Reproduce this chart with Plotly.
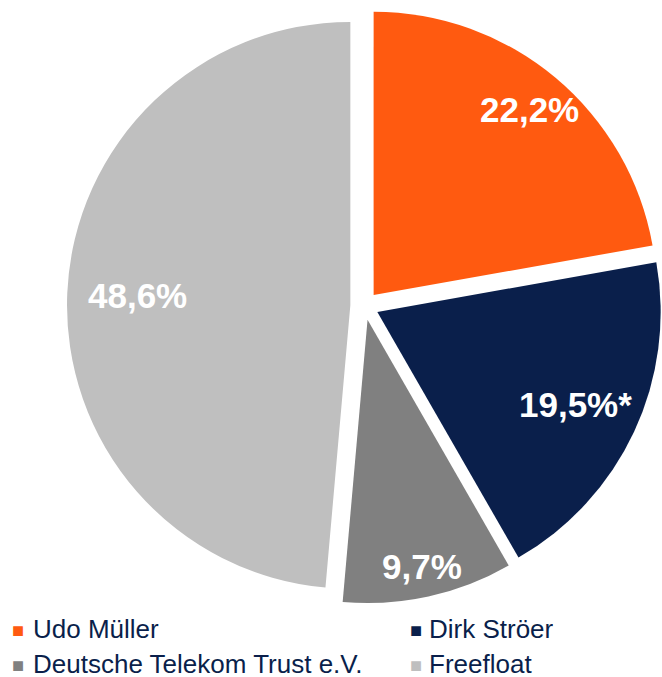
import math
import plotly.graph_objects as go

# Data
holders = ["Udo Müller", "Dirk Ströer", "Deutsche Telekom Trust e.V.", "Freefloat"]
shares = [22.2, 19.5, 9.7, 48.6]
label_suffix = ["", "*", "", ""]
colors = ["#FF5A10", "#0A1F4B", "#808080", "#BFBFBF"]

# style: radial position of each value label (fraction of pie radius, from slice apex)
label_radius = [0.854, 0.771, 0.893, 0.752]
# style: legend grid (column, row) of each entry
legend_column = [0, 1, 0, 1]
legend_row = [0, 0, 1, 1]

W, H = 662, 677
MB = 73                      # bottom margin reserved for the legend
GH = H - MB                  # plot-area height
PULL = 0.05
x0_px, x1_px = 67.0, 662.0
y_top_px = 7.8
dom_x = [x0_px / W, x1_px / W]
dom_y = [0, 1 - y_top_px / GH]

FONT = "Liberation Sans, Arial, sans-serif"
LEG_TEXT_X = [31.5, 427.5]     # px, left edge of legend text per column
LEG_SYM_X = [18.0, 415.5]      # px, centre of legend square per column
LEG_ROW_Y = [629.0, 664.0]     # px, centre of legend row

fig = go.Figure(
    go.Pie(
        labels=holders,
        values=shares,
        sort=False,
        direction="clockwise",
        rotation=0,
        pull=[PULL] * len(shares),
        marker=dict(colors=colors, line=dict(width=0)),
        textinfo="none",
        domain=dict(x=dom_x, y=dom_y),
        hoverinfo="label+percent",
        showlegend=False,
    )
)

# value labels placed along each slice's mid-angle (derived from the data)
aw = W * (dom_x[1] - dom_x[0])
ah = GH * (dom_y[1] - dom_y[0])
r = min(aw, ah) / (2 + 2 * PULL)
cx = W * (dom_x[0] + dom_x[1]) / 2
cy = GH * (1 - dom_y[0]) - ah / 2
total = sum(shares)
cum = 0.0
for v, suf, f in zip(shares, label_suffix, label_radius):
    mid = 2 * math.pi * (cum + v / 2) / total
    cum += v
    dx, dy = math.sin(mid), -math.cos(mid)
    px = cx + (PULL + f) * r * dx
    py = cy + (PULL + f) * r * dy
    txt = f"{v:.1f}".replace(".", ",") + "%" + suf
    fig.add_annotation(
        x=px / W, y=1 - py / GH, xref="paper", yref="paper",
        text=txt, showarrow=False, xanchor="center", yanchor="middle",
        font=dict(family=FONT, size=35, color="white", weight="bold"),
    )

# legend: coloured square + holder name, two columns
for name, col, row, c in zip(holders, legend_column, legend_row, colors):
    yc = LEG_ROW_Y[row]
    fig.add_annotation(
        x=LEG_SYM_X[col] / W, y=1 - (yc + 0.8) / GH, xref="paper", yref="paper",
        text="■", showarrow=False, xanchor="center", yanchor="middle",
        font=dict(family=FONT, size=20, color=c), borderpad=0,
    )
    fig.add_annotation(
        x=LEG_TEXT_X[col] / W, y=1 - yc / GH, xref="paper", yref="paper",
        text=name, showarrow=False, xanchor="left", yanchor="middle",
        height=26, valign="middle", borderpad=0,
        font=dict(family=FONT, size=26, color="#0A1F4B"),
    )

fig.update_layout(
    width=W,
    height=H,
    margin=dict(l=0, r=0, t=0, b=MB, autoexpand=False),
    paper_bgcolor="white",
    plot_bgcolor="white",
    font=dict(family=FONT),
    showlegend=False,
)

fig.write_html(
    "out.html",
    config={"displayModeBar": False},
    post_script="document.body.style.margin='0';document.body.style.overflow='hidden';",
)
